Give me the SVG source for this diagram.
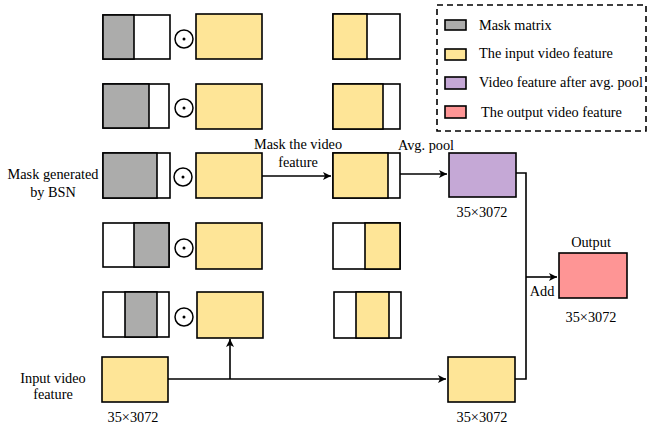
<svg xmlns="http://www.w3.org/2000/svg" width="652" height="427" viewBox="0 0 652 427" font-family="'Liberation Serif', 'Times New Roman', serif">
<defs>
<style>
text{font-family:'Liberation Serif','Times New Roman',serif;font-size:14.3px;fill:#000}
.c{text-anchor:middle}
.b{stroke:#000;stroke-width:1.6}
.g{fill:#acacab}
.y{fill:#fee597}
.w{fill:#fff}
.p{fill:#c5a8d6}
.r{fill:#fe9595}
.ln{fill:none;stroke:#000;stroke-width:1.6}
</style>
<marker id="ah" markerWidth="10" markerHeight="10" refX="9" refY="5" orient="auto" markerUnits="userSpaceOnUse">
<path d="M1,1 L9,5 L1,9 L3,5 Z" fill="#000"/>
</marker>
<g id="odot"><circle r="9" fill="#fff" stroke="#000" stroke-width="1.5"/><circle r="1.5" fill="#000"/></g>
</defs>
<rect width="652" height="427" fill="#fff"/>

<g id="legend">
<rect x="437" y="5" width="209" height="126" fill="none" stroke="#000" stroke-width="1.6" stroke-dasharray="6,4"/>
<rect class="b g" x="445" y="20" width="21" height="10"/>
<text x="479" y="30">Mask matrix</text>
<rect class="b y" x="445" y="49" width="21" height="11"/>
<text x="479" y="58">The input video feature</text>
<rect class="b p" x="445" y="77" width="21" height="12"/>
<text x="479" y="87">Video feature after avg. pool</text>
<rect class="b r" x="445" y="106" width="21" height="12"/>
<text x="481" y="117">The output video feature</text>
</g>

<g id="row1">
<rect class="b w" x="103" y="15" width="67" height="44"/>
<rect class="b g" x="103" y="15" width="31" height="44"/>
<use href="#odot" x="184" y="39"/>
<rect class="b y" x="196" y="14" width="66" height="45"/>
<rect class="b w" x="333" y="14" width="67" height="45"/>
<rect class="b y" x="333" y="14" width="34" height="45"/>
</g>

<g id="row2">
<rect class="b w" x="103" y="84" width="66" height="44"/>
<rect class="b g" x="103" y="84" width="46" height="44"/>
<use href="#odot" x="184" y="108"/>
<rect class="b y" x="196" y="84" width="66" height="45"/>
<rect class="b w" x="333" y="84" width="67" height="45"/>
<rect class="b y" x="333" y="84" width="50" height="45"/>
</g>

<g id="row3">
<text class="c" x="53" y="179">Mask generated</text>
<text class="c" x="53" y="197">by BSN</text>
<rect class="b w" x="103" y="153" width="67" height="45"/>
<rect class="b g" x="103" y="153" width="54" height="45"/>
<use href="#odot" x="183" y="177"/>
<rect class="b y" x="196" y="153" width="66" height="45"/>
<rect class="b w" x="333" y="153" width="67" height="45"/>
<rect class="b y" x="333" y="153" width="55" height="45"/>
</g>

<g id="row4">
<rect class="b w" x="103" y="223" width="66" height="44"/>
<rect class="b g" x="134" y="223" width="35" height="44"/>
<use href="#odot" x="184" y="248"/>
<rect class="b y" x="196" y="223" width="66" height="46"/>
<rect class="b w" x="333" y="223" width="67" height="46"/>
<rect class="b y" x="365" y="223" width="35" height="46"/>
</g>

<g id="row5">
<rect class="b w" x="103" y="292" width="66" height="45"/>
<rect class="b g" x="125" y="292" width="32" height="45"/>
<use href="#odot" x="184" y="317"/>
<rect class="b y" x="197" y="292" width="66" height="46"/>
<rect class="b w" x="334" y="292" width="67" height="46"/>
<rect class="b y" x="356" y="292" width="33" height="46"/>
</g>

<g id="input">
<rect class="b y" x="102" y="357" width="66" height="45"/>
<text class="c" x="53" y="383">Input video</text>
<text class="c" x="53" y="399">feature</text>
<text class="c" x="133" y="422">35×3072</text>
</g>

<g id="pooled">
<rect class="b p" x="449" y="153" width="67" height="44"/>
<text class="c" x="482" y="217">35×3072</text>
</g>

<g id="skip">
<rect class="b y" x="448" y="357" width="67" height="45"/>
<text class="c" x="482" y="422">35×3072</text>
</g>

<g id="output">
<rect class="b r" x="559" y="253" width="68" height="45"/>
<text class="c" x="591" y="247">Output</text>
<text class="c" x="591" y="322">35×3072</text>
</g>

<g id="connectors">
<line class="ln" x1="262" y1="176" x2="331" y2="176" marker-end="url(#ah)"/>
<text class="c" x="298" y="149">Mask the video</text>
<text class="c" x="298" y="167">feature</text>
<line class="ln" x1="400" y1="174" x2="447" y2="174" marker-end="url(#ah)"/>
<text class="c" x="426" y="150">Avg. pool</text>
<line class="ln" x1="168" y1="379" x2="446" y2="379" marker-end="url(#ah)"/>
<line class="ln" x1="230" y1="379" x2="230" y2="339" marker-end="url(#ah)"/>
<polyline class="ln" points="516,173 526,173 526,379 515,379"/>
<line class="ln" x1="526" y1="277" x2="557" y2="277" marker-end="url(#ah)"/>
<text class="c" x="542" y="296">Add</text>
</g>
</svg>
